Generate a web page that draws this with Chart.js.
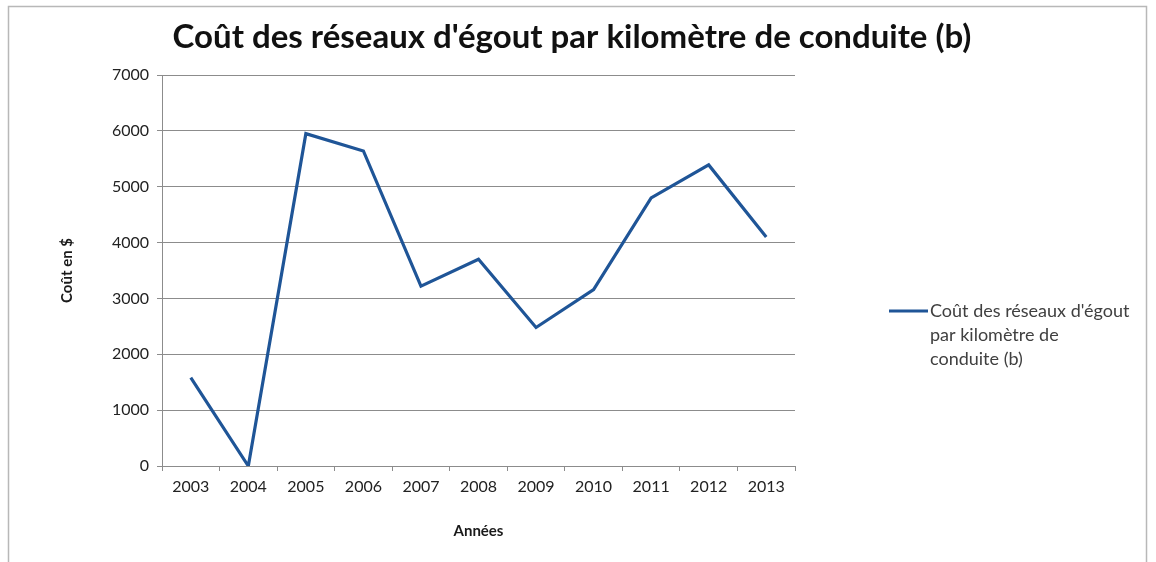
<!DOCTYPE html>
<html><head><meta charset="utf-8">
<script src="https://cdn.jsdelivr.net/npm/chart.js@4.4.1/dist/chart.umd.min.js"></script>
<style>html,body{margin:0;padding:0;background:#fff}#wrap{width:1156px;height:562px;position:relative}</style>
</head><body><div id="wrap"><canvas id="c" width="1156" height="562"></canvas></div>
<script>
const categories = ['2003','2004','2005','2006','2007','2008','2009','2010','2011','2012','2013'];
const seriesLabel = "Coût des réseaux d'égout par kilomètre de conduite (b)";
const legendLines = ["Coût des réseaux d'égout", "par kilomètre de", "conduite (b)"];
const values = [1580, 0, 5950, 5640, 3220, 3700, 2480, 3160, 4800, 5390, 4100];
const yTicks = [0, 1000, 2000, 3000, 4000, 5000, 6000, 7000];
const FONT = 'Lato, "Open Sans", sans-serif';
const LINE = '#1f5597';

const framePlugin = {
  id: 'frame',
  beforeDraw(chart) {
    const ctx = chart.ctx;
    ctx.save();
    ctx.fillStyle = '#fff';
    ctx.fillRect(0, 0, chart.width, chart.height);
    ctx.strokeStyle = '#b8b8b8';
    ctx.lineWidth = 1.5;
    ctx.strokeRect(8.5, 6.5, chart.width - 18, chart.height + 10);
    ctx.restore();
  }
};
const legendPlugin = {
  id: 'sideLegend',
  afterDraw(chart) {
    const ctx = chart.ctx, a = chart.chartArea;
    const x0 = a.right + 94, y0 = a.top + 236;
    ctx.save();
    ctx.strokeStyle = chart.data.datasets[0].borderColor;
    ctx.lineWidth = 3;
    ctx.beginPath(); ctx.moveTo(x0, y0); ctx.lineTo(x0 + 39, y0); ctx.stroke();
    ctx.fillStyle = '#404040';
    ctx.font = '18px ' + FONT;
    ctx.textBaseline = 'middle';
    legendLines.forEach((t, i) => ctx.fillText(t, x0 + 41, y0 + i * 24));
    ctx.restore();
  }
};

new Chart(document.getElementById('c'), {
  type: 'line',
  data: { labels: categories, datasets: [{ label: seriesLabel, data: values, borderColor: LINE, borderWidth: 3.2, pointRadius: 0, tension: 0, fill: false }] },
  options: {
    responsive: false, animation: false,
    layout: { padding: { left: 58, right: 70, top: 0, bottom: 0 } },
    plugins: {
      legend: { display: false },
      tooltip: { enabled: false },
      title: { display: true, text: "Coût des réseaux d'égout par kilomètre de conduite (b)", color: '#111', font: { family: FONT, size: 33, weight: 'bold' }, padding: { top: 18, bottom: 17.4 } }
    },
    scales: {
      x: {
        offset: true,
        grid: { offset: true, drawOnChartArea: false, tickLength: 5, color: '#8c8c8c' },
        border: { color: '#8c8c8c' },
        ticks: { color: '#222', font: { family: FONT, size: 16 }, padding: 6, maxRotation: 0 },
        title: { display: true, text: 'Années', color: '#1a1a1a', font: { family: FONT, size: 15, weight: 'bold' }, padding: { top: 0, bottom: 22 } },
        afterFit(s) { s.height = 96; }
      },
      y: {
        min: 0, max: 7000,
        afterBuildTicks(s) { s.ticks = yTicks.map(v => ({ value: v })); },
        grid: { tickLength: 5, color: '#8c8c8c' },
        border: { color: '#8c8c8c' },
        ticks: { color: '#222', font: { family: FONT, size: 16 }, padding: 8, callback: v => String(v) },
        title: { display: true, text: 'Coût en $', color: '#1a1a1a', font: { family: FONT, size: 15, weight: 'bold' }, padding: 0 },
        afterFit(s) { s.width = 162 - 58; }
      },
      legendSpace: {
        type: 'linear', position: 'right', display: true,
        grid: { display: false, drawOnChartArea: false }, border: { display: false },
        ticks: { display: false },
        afterFit(s) { s.width = 1156 - 70 - 795; }
      }
    }
  },
  plugins: [framePlugin, legendPlugin]
});
</script></body></html>
